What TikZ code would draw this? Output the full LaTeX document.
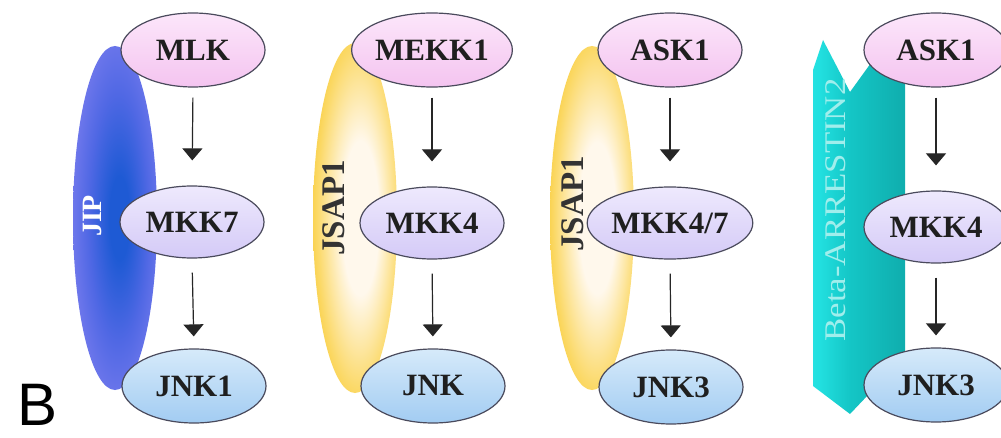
\documentclass[tikz,border=0pt]{standalone}
\usepackage{fontspec}
\setmainfont{Liberation Serif}
\newfontfamily\labsans{Liberation Sans}
\usetikzlibrary{arrows.meta,shapes.geometric}
\definecolor{pinkL}{HTML}{FCE6FA}
\definecolor{pinkD}{HTML}{F4C4F0}
\definecolor{lavL}{HTML}{EEE9FD}
\definecolor{lavD}{HTML}{D4CAF7}
\definecolor{bluL}{HTML}{D6EAFA}
\definecolor{bluD}{HTML}{A2CCF2}
\definecolor{ellline}{HTML}{4A4A5C}
\definecolor{jipdark}{HTML}{1E5AD4}
\definecolor{jipmid}{HTML}{5068E4}
\definecolor{jipout}{HTML}{8080F0}
\definecolor{goldout}{HTML}{F5BE08}
\definecolor{goldmid}{HTML}{FBD864}
\definecolor{goldin}{HTML}{FFF8EC}
\definecolor{arrA}{HTML}{40EAEA}
\definecolor{arrB}{HTML}{22E0E0}
\definecolor{arrC}{HTML}{14C6C6}
\definecolor{arrD}{HTML}{0EA4A4}
\definecolor{arrE}{HTML}{22C8C8}
\definecolor{arrtext}{HTML}{A0EEEC}
\pgfdeclareradialshading{jipsh}{\pgfpoint{3bp}{0bp}}{color(0bp)=(jipdark); color(6bp)=(jipdark); color(18bp)=(jipmid); color(32bp)=(jipout); color(50bp)=(jipout)}
\pgfdeclareradialshading{gsh}{\pgfpoint{4bp}{0bp}}{color(0bp)=(goldin); color(11bp)=(goldin); color(25bp)=(goldmid); color(36bp)=(goldout); color(50bp)=(goldout)}
\pgfdeclarehorizontalshading{arrsh}{100bp}{color(0bp)=(arrA); color(28bp)=(arrB); color(45bp)=(arrC); color(86bp)=(arrD); color(100bp)=(arrE)}
\begin{document}
\begin{tikzpicture}[x=1pt,y=-1pt,
  kin/.style={ellipse, draw=ellline, line width=1.2pt, minimum width=144pt,
    minimum height=74pt, inner sep=0pt, text=black!88,
    font=\fontsize{31}{31}\selectfont\bfseries},
  kinA/.style={kin, top color=pinkL, bottom color=pinkD},
  kinB/.style={kin, top color=lavL, bottom color=lavD, minimum height=72pt},
  kinC/.style={kin, top color=bluL, bottom color=bluD},
  sig/.style={draw=black!85, line width=1.2pt, -{Triangle[width=20pt,length=12pt]}},
  scaflab/.style={rotate=90, inner sep=0pt}]
\useasboundingbox (0,0) rectangle (1001,438);
\fill[white] (0,0) rectangle (1001,438);
% scaffolds
\path[shading=jipsh] (115,218) ellipse [x radius=42pt, y radius=172pt];
\node[scaflab, text=white, font=\fontsize{28}{28}\selectfont\bfseries] (jip) at (92,216) {JIP};
\path[shading=gsh] (355,218) ellipse [x radius=42pt, y radius=175pt];
\node[scaflab, text=black!80, font=\fontsize{33}{33}\selectfont\bfseries] (jsapA) at (334,208) {JSAP1};
\path[shading=gsh] (592,218) ellipse [x radius=42pt, y radius=172pt];
\node[scaflab, text=black!80, font=\fontsize{33}{33}\selectfont\bfseries] (jsapB) at (573,204) {JSAP1};
\path[shading=arrsh] (813,70) -- (823,40) -- (850,92) -- (876,56) -- (905,56)
  -- (905,356) -- (850,414) -- (813,386) -- cycle;
\node[scaflab, text=arrtext, font=\fontsize{30}{30}\selectfont] (arr) at (836,210)
  {\scalebox{1.16}[1]{Beta-ARRESTIN2}};
% panel 1
\node[kinA] (a1) at (193,50) {MLK};
\node[kinB] (a2) at (192,222) {MKK7};
\node[kinC] (a3) at (194,386) {JNK1};
% panel 2
\node[kinA] (b1) at (432,50) {MEKK1};
\node[kinB] (b2) at (432,223) {MKK4};
\node[kinC] (b3) at (433,386) {JNK};
% panel 3
\node[kinA] (c1) at (670,50) {ASK1};
\node[kinB] (c2) at (670,223) {MKK4/7};
\node[kinC] (c3) at (671,387) {JNK3};
% panel 4
\node[kinA] (d1) at (936,50) {ASK1};
\node[kinB] (d2) at (936,227) {MKK4};
\node[kinC] (d3) at (936,385) {JNK3};
% arrows
\foreach \p in {a,b,c,d}{
  \draw[sig, shorten <=10pt, shorten >=25pt] (\p1.south) -- (\p2.north);
  \draw[sig, shorten <=14pt, shorten >=12pt] (\p2.south) -- (\p3.north);
}
\node[inner sep=0pt, font=\labsans\fontsize{60}{60}\selectfont] (B) at (38,405) {B};
\end{tikzpicture}
\end{document}
